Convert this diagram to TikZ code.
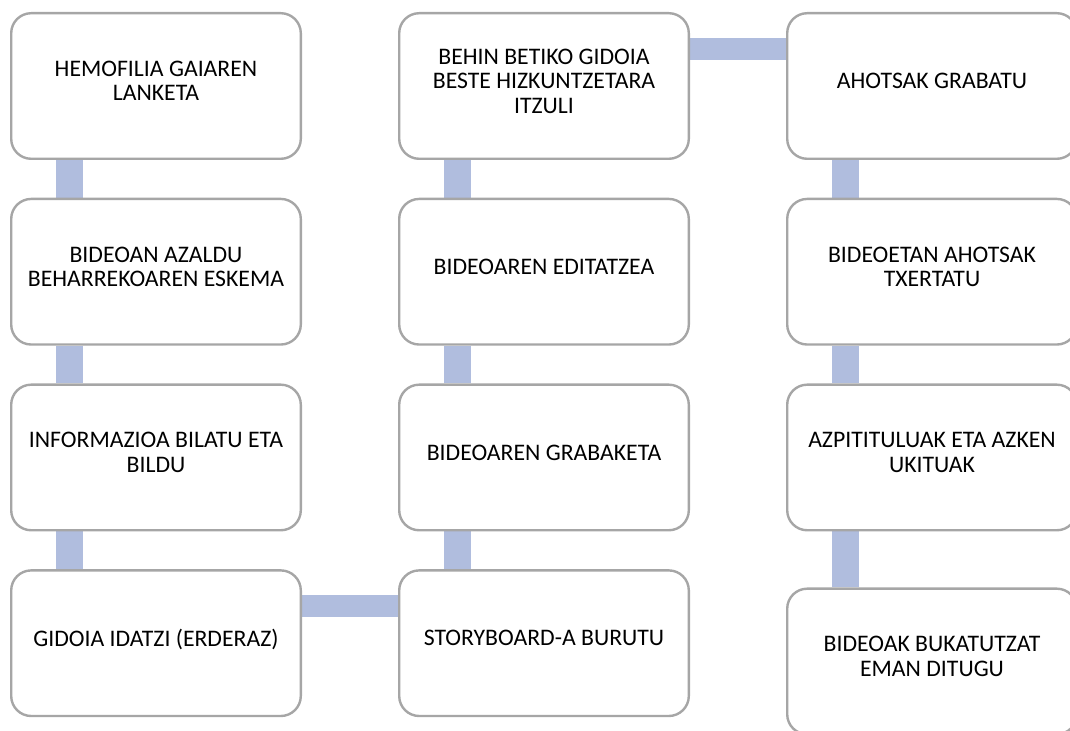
\documentclass[tikz,border=0pt]{standalone}
\usepackage{fontspec}
\setmainfont{Carlito}
\usetikzlibrary{positioning, backgrounds}
\definecolor{boxgray}{RGB}{166,166,166}
\definecolor{barblue}{RGB}{176,189,222}

\begin{document}
\begin{tikzpicture}[
stepnode/.style={rectangle, rounded corners=15pt, draw=boxgray, fill=white, line width=1.8pt,
  minimum width=217.2pt, minimum height=109.2pt, align=center, text depth=7.5pt,
  font=\fontsize{17.8}{18.3}\selectfont},
vbar/.style={draw=barblue, line width=20pt},
hbar/.style={draw=barblue, line width=16.5pt},
node distance=28.3pt and 72pt,
]
    \useasboundingbox (0pt,0pt) rectangle (802.5pt,-548.25pt);

    \node[stepnode]      (hemofilia)                                    at (117pt,-64.5pt) {HEMOFILIA GAIAREN\\LANKETA};
    \node[stepnode]      (eskema)          [below=of hemofilia]         {BIDEOAN AZALDU\\BEHARREKOAREN ESKEMA};
    \node[stepnode]      (informazioa)     [below=of eskema]            {INFORMAZIOA BILATU ETA\\BILDU};
    \node[stepnode]      (gidoia)          [below=of informazioa]       {GIDOIA IDATZI (ERDERAZ)};
    \node[stepnode]      (storyboard)      [right=of gidoia]            {STORYBOARD-A BURUTU};
    \node[stepnode]      (grabaketa)       [above=of storyboard]        {BIDEOAREN GRABAKETA};
    \node[stepnode]      (editatzea)       [above=of grabaketa]         {BIDEOAREN EDITATZEA};
    \node[stepnode]      (itzuli)          [above=of editatzea]         {BEHIN BETIKO GIDOIA\\BESTE HIZKUNTZETARA\\ITZULI};
    \node[stepnode]      (ahotsak)         [right=of itzuli]            {AHOTSAK GRABATU};
    \node[stepnode]      (txertatu)        [below=of ahotsak]           {BIDEOETAN AHOTSAK\\TXERTATU};
    \node[stepnode]      (azpitituluak)    [below=of txertatu]          {AZPITITULUAK ETA AZKEN\\UKITUAK};
    \node[stepnode]      (bukatu)          [below=42pt of azpitituluak] {BIDEOAK BUKATUTZAT\\EMAN DITUGU};

    \begin{scope}[on background layer]
    \draw[vbar] ([xshift=-65pt]hemofilia.south) -- ([xshift=-65pt]eskema.north);
    \draw[vbar] ([xshift=-65pt]eskema.south) -- ([xshift=-65pt]informazioa.north);
    \draw[vbar] ([xshift=-65pt]informazioa.south) -- ([xshift=-65pt]gidoia.north);
    \draw[hbar] ([yshift=28pt]gidoia.east) -- ([yshift=28pt]storyboard.west);
    \draw[vbar] ([xshift=-65pt]storyboard.north) -- ([xshift=-65pt]grabaketa.south);
    \draw[vbar] ([xshift=-65pt]grabaketa.north) -- ([xshift=-65pt]editatzea.south);
    \draw[vbar] ([xshift=-65pt]editatzea.north) -- ([xshift=-65pt]itzuli.south);
    \draw[hbar] ([yshift=28pt]itzuli.east) -- ([yshift=28pt]ahotsak.west);
    \draw[vbar] ([xshift=-65pt]ahotsak.south) -- ([xshift=-65pt]txertatu.north);
    \draw[vbar] ([xshift=-65pt]txertatu.south) -- ([xshift=-65pt]azpitituluak.north);
    \draw[vbar] ([xshift=-65pt]azpitituluak.south) -- ([xshift=-65pt]bukatu.north);
    \end{scope}
\end{tikzpicture}
\end{document}
